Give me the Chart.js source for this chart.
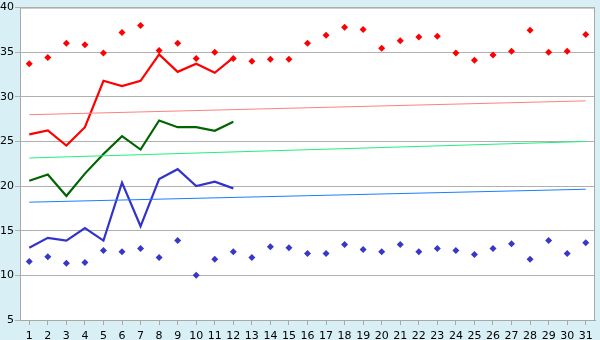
<!DOCTYPE html>
<html>
<head>
<meta charset="utf-8">
<script src="https://cdn.jsdelivr.net/npm/chart.js@4/dist/chart.umd.min.js"></script>
<style>
  html, body { margin:0; padding:0; background:#d9eff6; }
  #wrap { width:600px; height:340px; }
</style>
</head>
<body>
<div id="wrap"><canvas id="c" width="600" height="340"></canvas></div>
<script>
// values
const days = Array.from({length:31}, (_, i) => String(i + 1));
const yTicks = [5, 10, 15, 20, 25, 30, 35, 40];

const highPts = [33.7, 34.4, 36.0, 35.85, 34.9, 37.2, 38.0, 35.2, 36.0, 34.3, 35.0, 34.3, 34.0, 34.2, 34.2, 36.0,
  36.9, 37.8, 37.55, 35.45, 36.3, 36.7, 36.8, 34.9, 34.1, 34.7, 35.1, 37.45, 35.0, 35.1, 37.0];
const lowPts = [11.55, 12.1, 11.35, 11.45, 12.8, 12.65, 13.0, 12.0, 13.9, 10.0, 11.8, 12.65, 12.0, 13.2, 13.1, 12.45,
  12.45, 13.45, 12.9, 12.65, 13.45, 12.65, 13.0, 12.8, 12.35, 13.0, 13.55, 11.8, 13.9, 12.45, 13.65];

const redLine   = [25.8, 26.25, 24.55, 26.6, 31.8, 31.2, 31.8, 34.75, 32.8, 33.7, 32.7, 34.4];
const greenLine = [20.6, 21.3, 18.9, 21.4, 23.6, 25.6, 24.1, 27.35, 26.6, 26.6, 26.2, 27.2];
const blueLine  = [13.1, 14.2, 13.9, 15.3, 13.9, 20.4, 15.5, 20.8, 21.9, 20.0, 20.5, 19.75];

// trend lines: value on day 1 and day 31
const redTrend   = [28.0, 29.55];
const greenTrend = [23.15, 25.0];
const blueTrend  = [18.2, 19.65];

const trend = ends => days.map((d, i) => i === 0 ? ends[0] : (i === days.length - 1 ? ends[1] : null));

const bgPlugin = {
  id: 'bg',
  beforeDraw(chart) {
    const { ctx, chartArea: a } = chart;
    ctx.save();
    ctx.fillStyle = '#d9eff6';
    ctx.fillRect(0, 0, chart.width, chart.height);
    ctx.fillStyle = '#ffffff';
    ctx.fillRect(a.left, a.top, a.right - a.left, a.bottom - a.top);
    ctx.restore();
  },
  afterDatasetsDraw(chart) {
    const { ctx, chartArea: a } = chart;
    ctx.save();
    ctx.strokeStyle = '#a8a8a8';
    ctx.lineWidth = 1;
    ctx.strokeRect(a.left + 0.5, a.top + 0.5, a.right - a.left - 1, a.bottom - a.top);
    ctx.restore();
  }
};

const lineDs = (data, color, w) => ({
  type: 'line', data, borderColor: color, borderWidth: w, pointRadius: 0,
  tension: 0, fill: false, spanGaps: true
});
const ptDs = (data, color) => ({
  type: 'line', data, showLine: false, pointStyle: 'rectRot', pointRadius: 3.5,
  pointBackgroundColor: color, pointBorderColor: color, pointBorderWidth: 0
});

Chart.defaults.font.family = '"DejaVu Sans", Verdana, sans-serif';
Chart.defaults.font.size = 11;
Chart.defaults.color = '#000';

new Chart(document.getElementById('c'), {
  type: 'line',
  data: {
    labels: days,
    datasets: [
      lineDs(trend(redTrend), '#ff8080', 1),
      lineDs(trend(greenTrend), '#20f080', 1),
      lineDs(trend(blueTrend), '#1a80ff', 1),
      lineDs(redLine, '#ff0000', 2.2),
      lineDs(greenLine, '#006400', 2.2),
      lineDs(blueLine, '#3333cc', 2.2),
      ptDs(highPts, '#ff0000'),
      ptDs(lowPts, '#3838c8')
    ]
  },
  plugins: [bgPlugin],
  options: {
    responsive: false, animation: false, devicePixelRatio: 1,
    layout: { padding: { top: 5, right: 5, left: 0, bottom: 0 } },
    plugins: { legend: { display: false }, tooltip: { enabled: false } },
    scales: {
      x: {
        offset: true,
        grid: { drawOnChartArea: false, drawTicks: true, tickLength: 5, color: '#a8a8a8', offset: false },
        border: { color: '#a8a8a8' },
        ticks: { autoSkip: false, maxRotation: 0, padding: 5 },
        afterFit: s => { s.height = 20; }
      },
      y: {
        min: 5, max: 40,
        afterBuildTicks: s => { s.ticks = yTicks.map(v => ({ value: v })); },
        grid: { color: '#b0b0b0', tickLength: 5 },
        border: { color: '#a8a8a8' },
        ticks: { padding: 1 },
        afterFit: s => { s.width = 20; }
      }
    }
  }
});
</script>
</body>
</html>
